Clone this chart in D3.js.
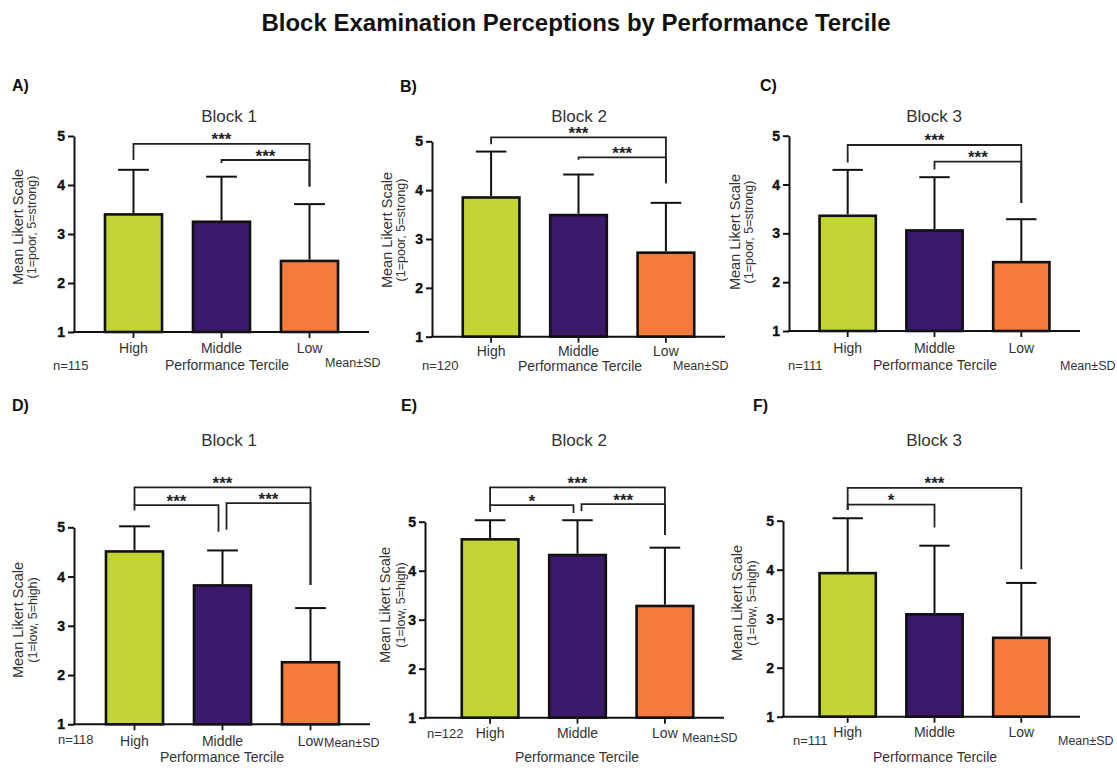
<!DOCTYPE html>
<html>
<head>
<meta charset="utf-8">
<script src="https://cdn.jsdelivr.net/npm/d3@7"></script>
<style>
  body { margin: 0; background: #fff; }
  svg, svg text { font-family: "Liberation Sans", Arial, Helvetica, sans-serif; }
</style>
</head>
<body>
<svg id="chart"></svg>
<script>
// ---- data ----
const terciles = ["High", "Middle", "Low"];
const panelLetters = ["A)", "B)", "C)", "D)", "E)", "F)"];
const blockNames = ["Block 1", "Block 2", "Block 3", "Block 1", "Block 2", "Block 3"];
const scaleNotes = ["(1=poor, 5=strong)", "(1=poor, 5=strong)", "(1=poor, 5=strong)",
                    "(1=low, 5=high)", "(1=low, 5=high)", "(1=low, 5=high)"];
const sampleSizes = [115, 120, 111, 118, 122, 111];
const means = [
  [3.40, 3.25, 2.45],
  [3.85, 3.49, 2.72],
  [3.36, 3.06, 2.41],
  [4.51, 3.82, 2.26],
  [4.64, 4.32, 3.28],
  [3.93, 3.09, 2.61]
];
const sds = [
  [0.91, 0.92, 1.16],
  [0.94, 0.83, 1.02],
  [0.94, 1.09, 0.88],
  [0.51, 0.71, 1.10],
  [0.39, 0.71, 1.19],
  [1.12, 1.40, 1.12]
];
const yTicks = [1, 2, 3, 4, 5];
// [from, to, stars]
const comparisons = [
  [[0, 2, "***"], [1, 2, "***"]],
  [[0, 2, "***"], [1, 2, "***"]],
  [[0, 2, "***"], [1, 2, "***"]],
  [[0, 2, "***"], [0, 1, "***"], [1, 2, "***"]],
  [[0, 2, "***"], [0, 1, "*"], [1, 2, "***"]],
  [[0, 2, "***"], [0, 1, "*"]]
];

const colors = ["#c2d534", "#3b1a6b", "#f47b3b"];

// ---- layout (pixel placement of each panel) ----
// brackets: [line level, left leg end, right leg end] in axis units
const layout = [
  { axisX: 74, band: [74, 369], yr: [332, 136], letter: [12, 91], title: [229, 122],
    ylab: [19, 33, 227], n: [53, 370], sd: [325, 367], pt: [227, 370], tickY: 21,
    brackets: [[4.84, 4.51, 3.97], [4.51, 4.45, 3.97]] },
  { axisX: 432, band: [432, 725], yr: [336.7, 141.3], letter: [400, 92], title: [579, 122],
    ylab: [388, 402, 230], n: [422, 370], sd: [673, 370], pt: [580, 371], tickY: 19,
    brackets: [[5.08, 4.94, 4.14], [4.67, 4.62, 4.14]] },
  { axisX: 789, band: [789, 1080], yr: [331, 135.7], letter: [760, 91], title: [934, 122],
    ylab: [736, 750, 232], n: [788, 370], sd: [1060, 370], pt: [935, 370], tickY: 22,
    brackets: [[4.81, 4.45, 3.62], [4.47, 4.31, 3.62]] },
  { axisX: 74, band: [75, 370], yr: [724.3, 527.3], letter: [12, 411], title: [229, 446],
    ylab: [19, 34, 620], n: [58, 744], sd: [324, 747], pt: [222, 762], tickY: 22,
    brackets: [[5.81, 5.45, 3.83], [5.45, 5.34, 4.91], [5.49, 4.95, 3.83]] },
  { axisX: 425, band: [431, 724], yr: [717.7, 521.7], letter: [401, 411], title: [579, 446],
    ylab: [386, 402, 605], n: [427, 738], sd: [682, 742], pt: [577, 762], tickY: 20,
    brackets: [[5.70, 5.34, 4.73], [5.34, 5.20, 5.18], [5.36, 5.22, 4.73]] },
  { axisX: 783, band: [789, 1080], yr: [716.7, 520.7], letter: [753, 411], title: [934, 446],
    ylab: [738, 753, 603], n: [793, 745], sd: [1058, 745], pt: [935, 762], tickY: 20,
    brackets: [[5.67, 5.22, 4.01], [5.33, 5.22, 4.86]] }
];

const width = 1117, height = 774;
const svg = d3.select("#chart").attr("width", width).attr("height", height);

svg.append("text")
  .attr("x", 576).attr("y", 31)
  .attr("text-anchor", "middle")
  .style("font-size", "24px")
  .style("font-weight", "bold")
  .attr("fill", "#111")
  .text("Block Examination Perceptions by Performance Tercile");

layout.forEach((L, p) => {
  const g = svg.append("g");

  const x = d3.scaleBand().domain(terciles).range(L.band).paddingInner(0.352).paddingOuter(0.352);
  const y = d3.scaleLinear().domain([1, 5]).range(L.yr);
  const bw = x.bandwidth();
  const cx = t => x(t) + bw / 2;

  // y axis
  const yAxis = g.append("g")
    .attr("transform", `translate(${L.axisX},0)`)
    .call(d3.axisLeft(y).tickValues(yTicks).tickSize(6).tickSizeOuter(0).tickPadding(3).tickFormat(d3.format("d")));
  yAxis.attr("font-family", null).attr("font-size", null);
  yAxis.selectAll("path, line").attr("stroke", "#111").attr("stroke-width", 2);
  yAxis.selectAll(".tick text")
    .style("font-size", "14px").style("font-weight", "bold")
    .attr("fill", "#111").attr("stroke", "#111").attr("stroke-width", 0.4);

  // bars
  g.selectAll(".bar")
    .data(terciles)
    .join("rect")
    .attr("class", "bar")
    .attr("x", d => x(d))
    .attr("y", (d, i) => y(means[p][i]))
    .attr("width", bw)
    .attr("height", (d, i) => y(1) - y(means[p][i]))
    .attr("fill", (d, i) => colors[i])
    .attr("stroke", "#111")
    .attr("stroke-width", 2.6);

  // upper SD whiskers
  const cap = bw * 0.27;
  terciles.forEach((t, i) => {
    const top = y(means[p][i] + sds[p][i]);
    g.append("line")
      .attr("x1", cx(t)).attr("x2", cx(t))
      .attr("y1", y(means[p][i]) - 1.3).attr("y2", top)
      .attr("stroke", "#111").attr("stroke-width", 2);
    g.append("line")
      .attr("x1", cx(t) - cap).attr("x2", cx(t) + cap)
      .attr("y1", top).attr("y2", top)
      .attr("stroke", "#111").attr("stroke-width", 2);
  });

  // x axis
  const xAxis = g.append("g")
    .attr("transform", `translate(0,${y(1)})`)
    .call(d3.axisBottom(x).tickSize(6).tickSizeOuter(0));
  xAxis.attr("font-family", null).attr("font-size", null);
  xAxis.select(".domain").remove();
  xAxis.selectAll("line").attr("stroke", "#111").attr("stroke-width", 1.8);
  xAxis.selectAll("text")
    .attr("y", L.tickY).attr("dy", null)
    .style("font-size", "14px").attr("fill", "#333");
  g.append("line")
    .attr("x1", L.axisX - 1).attr("x2", L.band[1])
    .attr("y1", y(1)).attr("y2", y(1))
    .attr("stroke", "#111").attr("stroke-width", 2);

  // significance brackets
  const comps = comparisons[p];
  comps.forEach((c, k) => {
    const [from, to, stars] = c;
    const [lv, lEnd, rEnd] = L.brackets[k];
    let x1 = cx(terciles[from]), x2 = cx(terciles[to]);
    if (to === 1 && comps.some(o => o[0] === 1)) x2 -= 4;
    if (from === 1 && comps.some(o => o[1] === 1)) x1 += 4;
    const yy = y(lv);
    g.append("path")
      .attr("d", `M${x1},${y(lEnd)}V${yy}H${x2}V${y(rEnd)}`)
      .attr("fill", "none")
      .attr("stroke", "#222")
      .attr("stroke-width", 1.8);
    g.append("text")
      .attr("x", (x1 + x2) / 2).attr("y", yy + 1.5)
      .attr("text-anchor", "middle")
      .style("font-size", "17px")
      .style("font-weight", "bold")
      .attr("fill", "#222")
      .text(stars);
  });

  // panel texts
  g.append("text")
    .attr("x", L.letter[0]).attr("y", L.letter[1])
    .style("font-size", "16px").style("font-weight", "bold").attr("fill", "#111")
    .text(panelLetters[p]);
  g.append("text")
    .attr("x", L.title[0]).attr("y", L.title[1])
    .attr("text-anchor", "middle")
    .style("font-size", "17px").attr("fill", "#333")
    .text(blockNames[p]);

  g.append("text")
    .attr("transform", `translate(${L.ylab[0]},${L.ylab[2]}) rotate(-90)`)
    .attr("text-anchor", "middle").attr("dominant-baseline", "middle")
    .style("font-size", "14.5px").attr("fill", "#333")
    .text("Mean Likert Scale");
  g.append("text")
    .attr("transform", `translate(${L.ylab[1]},${L.ylab[2]}) rotate(-90)`)
    .attr("text-anchor", "middle").attr("dominant-baseline", "middle")
    .style("font-size", "12.5px").attr("fill", "#333")
    .text(scaleNotes[p]);

  g.append("text")
    .attr("x", L.n[0]).attr("y", L.n[1])
    .style("font-size", "13px").attr("fill", "#333")
    .text("n=" + sampleSizes[p]);
  g.append("text")
    .attr("x", L.sd[0]).attr("y", L.sd[1])
    .style("font-size", "12.5px").attr("fill", "#333")
    .text("Mean±SD");
  g.append("text")
    .attr("x", L.pt[0]).attr("y", L.pt[1])
    .attr("text-anchor", "middle")
    .style("font-size", "14px").attr("fill", "#333")
    .text("Performance Tercile");
});
</script>
</body>
</html>
